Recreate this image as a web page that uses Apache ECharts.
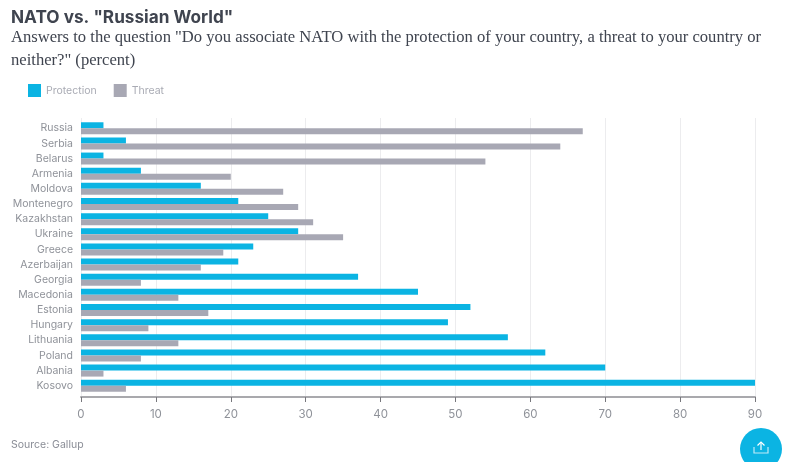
<!DOCTYPE html>
<html><head><meta charset="utf-8">
<style>html,body{margin:0;padding:0;background:#fff}#c{width:788px;height:462px}</style>
<script src="https://cdn.jsdelivr.net/npm/echarts@6/dist/echarts.min.js"></script>
</head><body><div id="c"></div>
<script>
const categories=["Russia","Serbia","Belarus","Armenia","Moldova","Montenegro","Kazakhstan","Ukraine","Greece","Azerbaijan","Georgia","Macedonia","Estonia","Hungary","Lithuania","Poland","Albania","Kosovo"];
const protection=[3,6,3,8,16,21,25,29,23,21,37,45,52,49,57,62,70,90];
const threat=[67,64,54,20,27,29,31,35,19,16,8,13,17,9,13,8,3,6];
const titleText='NATO vs. "Russian World"';
const subtitleLines=['Answers to the question "Do you associate NATO with the protection of your country, a threat to your country or','neither?" (percent)'];
const sourceText='Source: Gallup';
const labelFont='Inter,"Noto Sans",sans-serif';
const serif='"Liberation Serif",serif';
const chart=echarts.init(document.getElementById('c'),null,{renderer:'canvas'});
chart.setOption({
  animation:false,
  backgroundColor:'#fff',
  title:[
    {text:titleText,left:6,top:4,textStyle:{fontFamily:labelFont,fontSize:17.2,fontWeight:700,color:'#3f444f'}},
    {text:subtitleLines[0],left:6,top:24,textStyle:{fontFamily:serif,fontSize:16.6,fontWeight:400,color:'#3f444f'}},
    {text:subtitleLines[1],left:6,top:47,textStyle:{fontFamily:serif,fontSize:16.6,fontWeight:400,color:'#3f444f'}},
    {text:sourceText,left:6,top:434,textStyle:{fontFamily:labelFont,fontSize:10.5,fontWeight:400,color:'#8a8d96'}}
  ],
  legend:{left:23,top:79,itemWidth:13,itemHeight:13,itemGap:17,icon:'rect',
    textStyle:{fontFamily:labelFont,fontSize:10.5,color:'#a9abb4'},
    data:['Protection','Threat']},
  grid:[
    {left:81,right:33,top:120.7,height:272.6},
    {left:81,right:33,top:118,height:279}
  ],
  xAxis:[
    {type:'value',gridIndex:0,min:0,max:90,interval:10,show:false},
    {type:'value',gridIndex:1,min:0,max:90,interval:10,
      axisLine:{show:true,lineStyle:{color:'#a9a9ad',width:2}},
      axisTick:{show:true,length:5,inside:false,lineStyle:{color:'#77777c',width:1}},
      axisLabel:{margin:12,fontFamily:labelFont,fontSize:11.5,color:'#8f9299',showMinLabel:true,showMaxLabel:true},
      splitLine:{show:true,lineStyle:{color:'#ececee',width:1}}}
  ],
  yAxis:[
    {type:'category',gridIndex:0,data:categories,inverse:true,
      axisLine:{show:false},axisTick:{show:false},
      axisLabel:{margin:8,interval:0,fontFamily:labelFont,fontSize:10.5,color:'#8f9299'}},
    {type:'value',gridIndex:1,min:0,max:1,show:false}
  ],
  series:[
    {name:'Protection',type:'bar',xAxisIndex:0,yAxisIndex:0,data:protection,barWidth:6,barGap:'0%',itemStyle:{color:'#0bb4e3'},z:3},
    {name:'Threat',type:'bar',xAxisIndex:0,yAxisIndex:0,data:threat,barWidth:6,itemStyle:{color:'#a8a8b4'},z:3}
  ],
  graphic:[
    {type:'circle',shape:{cx:761,cy:449,r:21},style:{fill:'#0bb4e3'},z:10},
    {type:'polyline',shape:{points:[[754,447],[754,453],[768,453],[768,447]]},style:{fill:null,stroke:'#bfeaf7',lineWidth:1.2},z:11},
    {type:'polyline',shape:{points:[[761,450],[761,442]]},style:{fill:null,stroke:'#fff',lineWidth:1.2},z:11},
    {type:'polyline',shape:{points:[[757.5,445.5],[761,442],[764.5,445.5]]},style:{fill:null,stroke:'#fff',lineWidth:1.2},z:11}
  ]
});
</script></body></html>
